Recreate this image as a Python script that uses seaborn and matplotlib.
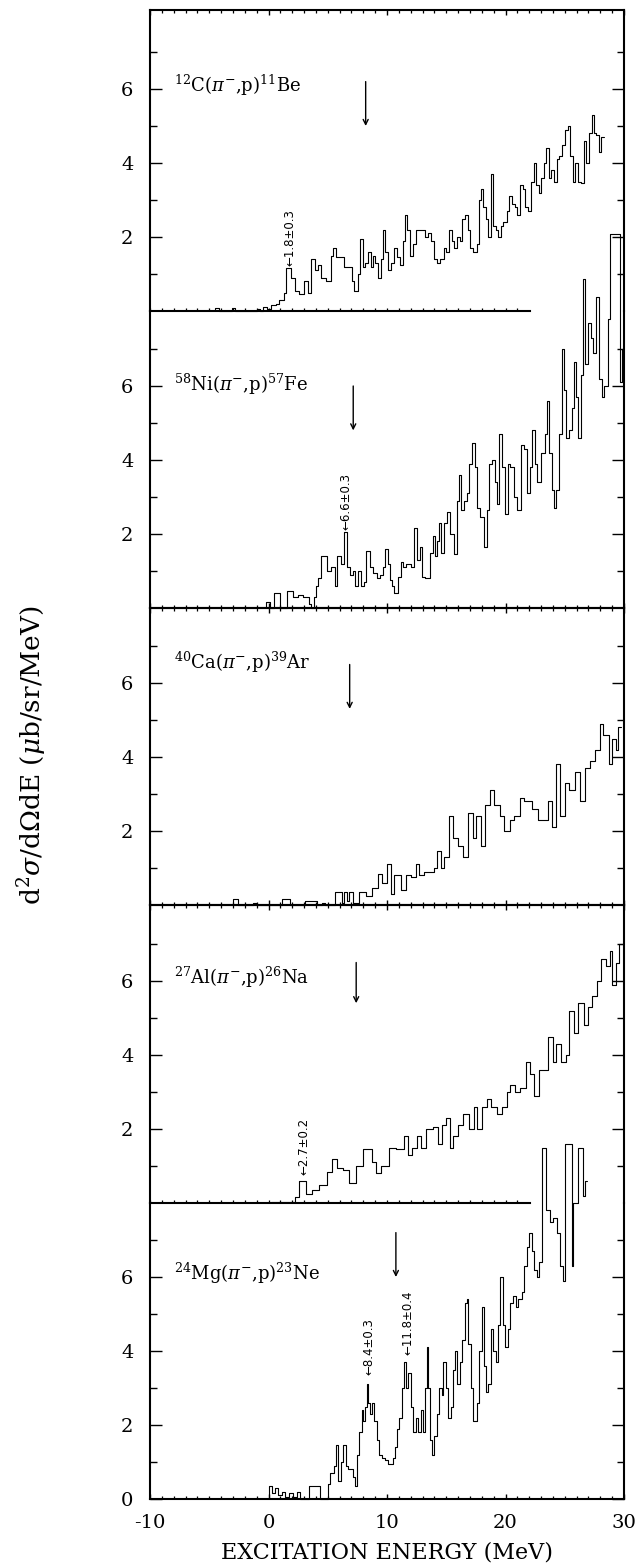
import numpy as np
import matplotlib
matplotlib.use("Agg")
from matplotlib import pyplot as plt
from matplotlib import ticker
import seaborn as sns

sns.set_theme(style="white")
plt.rcParams["font.family"] = ["DejaVu Serif", "DejaVu Sans"]
plt.rcParams["mathtext.fontset"] = "dejavuserif"
plt.rcParams["xtick.direction"] = "in"
plt.rcParams["ytick.direction"] = "in"
plt.rcParams["axes.unicode_minus"] = False
for key in ("text.color", "axes.labelcolor", "xtick.color", "ytick.color", "axes.edgecolor"):
    plt.rcParams[key] = "black"


# step histograms: bin edges (MeV) and cross sections (mub/sr/MeV), one value per bin
c_e = [-4.5, -4.2, -3.1, -2.8, -1.0, -0.7, -0.5, -0.1, 0.2, 0.6,
       0.9, 1.3, 1.5, 1.9, 2.2, 2.6, 3.0, 3.3, 3.6, 3.9,
       4.15, 4.45, 4.85, 5.3, 5.45, 5.7, 6.4, 7.03, 7.25, 7.59,
       7.76, 7.96, 8.16, 8.38, 8.61, 8.81, 9.0, 9.23, 9.51, 9.66,
       9.85, 10.08, 10.36, 10.59, 10.87, 11.07, 11.35, 11.55, 11.72, 11.92,
       12.2, 12.48, 13.19, 13.47, 13.75, 13.98, 14.18, 14.46, 14.82, 15.02,
       15.25, 15.45, 15.67, 15.87, 16.15, 16.35, 16.58, 16.8, 17.0, 17.28,
       17.57, 17.76, 17.93, 18.13, 18.33, 18.55, 18.75, 18.98, 19.18, 19.4,
       19.63, 19.83, 20.11, 20.31, 20.53, 20.76, 20.96, 21.24, 21.44, 21.66,
       21.94, 22.17, 22.37, 22.57, 22.79, 23.02, 23.22, 23.41, 23.64, 23.84,
       24.06, 24.35, 24.54, 24.77, 25.05, 25.28, 25.47, 25.67, 25.9, 26.12,
       26.38, 26.6, 26.8, 27.03, 27.26, 27.45, 27.65, 27.88, 28.07, 28.3]
c_v = [0.08, 0.0, 0.08, 0.0, 0.06, 0.0, 0.1, 0.05, 0.15, 0.2,
       0.3, 0.5, 1.15, 0.9, 0.55, 0.45, 0.8, 0.5, 1.4, 1.1,
       1.25, 0.9, 0.8, 1.5, 1.7, 1.45, 1.2, 0.8, 0.55, 1.0,
       1.95, 1.2, 1.3, 1.6, 1.2, 1.5, 1.3, 0.9, 1.4, 2.2,
       1.6, 1.1, 1.3, 1.7, 1.45, 1.25, 1.9, 2.6, 2.2, 1.5,
       1.8, 2.2, 2.0, 2.1, 1.9, 1.4, 1.3, 1.4, 1.7, 1.6,
       2.2, 1.9, 1.7, 2.0, 1.9, 2.5, 2.6, 2.2, 1.7, 1.6,
       1.8, 3.0, 3.3, 2.8, 2.5, 2.0, 3.7, 2.3, 2.2, 2.0,
       2.3, 2.4, 2.7, 3.1, 2.9, 2.8, 2.6, 3.4, 3.3, 2.8,
       2.7, 3.5, 4.0, 3.4, 3.2, 3.6, 4.0, 4.4, 3.6, 3.8,
       3.5, 4.1, 4.2, 4.5, 4.9, 5.0, 4.2, 3.5, 4.0, 3.5,
       3.45, 4.6, 4.0, 4.8, 5.3, 4.8, 4.75, 4.3, 4.7]

ni_e = [-0.2, 0.1, 0.5, 0.95, 1.6, 2.05, 2.5, 2.9, 3.4, 3.6,
        3.85, 4.05, 4.2, 4.45, 4.9, 5.3, 5.59, 5.82, 6.1, 6.38,
        6.66, 6.86, 7.14, 7.34, 7.57, 7.79, 8.08, 8.27, 8.56, 8.84,
        9.12, 9.4, 9.69, 9.83, 10.05, 10.25, 10.45, 10.62, 10.96, 11.18,
        11.38, 11.58, 12.03, 12.26, 12.51, 12.79, 12.99, 13.22, 13.64, 13.84,
        14.01, 14.21, 14.4, 14.57, 14.8, 15.05, 15.34, 15.62, 15.9, 16.1,
        16.27, 16.47, 16.75, 16.95, 17.17, 17.4, 17.6, 17.88, 18.16, 18.44,
        18.64, 18.87, 19.09, 19.29, 19.49, 19.71, 19.94, 20.22, 20.42, 20.7,
        20.99, 21.27, 21.55, 21.83, 22.06, 22.26, 22.48, 22.68, 22.96, 23.33,
        23.53, 23.67, 23.9, 24.09, 24.29, 24.52, 24.74, 24.94, 25.14, 25.36,
        25.59, 25.79, 25.99, 26.16, 26.35, 26.55, 26.72, 26.92, 27.2, 27.4,
        27.62, 27.91, 28.13, 28.33, 28.61, 28.85, 29.65, 29.8, 30.0]
ni_v = [0.15, 0.0, 0.4, 0.0, 0.45, 0.3, 0.35, 0.3, 0.1, 0.0,
        0.3, 0.6, 0.8, 1.4, 1.0, 1.1, 0.6, 1.4, 1.2, 2.05,
        1.1, 0.9, 1.0, 0.6, 1.0, 0.6, 0.7, 1.55, 1.1, 0.95,
        0.8, 0.9, 1.1, 1.6, 1.2, 0.75, 0.6, 0.4, 0.85, 1.25,
        1.1, 1.2, 1.1, 2.15, 1.3, 1.65, 0.85, 0.8, 1.5, 1.95,
        1.4, 1.8, 2.3, 1.5, 2.3, 2.6, 2.0, 1.45, 2.9, 3.6,
        2.65, 2.9, 3.1, 3.9, 4.45, 3.8, 2.7, 2.45, 1.65, 2.65,
        3.9, 4.0, 3.4, 2.8, 4.7, 3.8, 2.55, 3.9, 3.8, 3.0,
        2.65, 4.4, 4.3, 3.1, 3.8, 4.8, 3.9, 3.4, 4.2, 4.7,
        5.6, 4.2, 3.2, 2.7, 3.2, 4.7, 7.0, 5.9, 4.6, 4.8,
        5.4, 6.65, 5.7, 4.6, 6.3, 8.9, 6.6, 7.7, 7.3, 6.9,
        8.4, 6.2, 5.7, 6.0, 7.8, 10.1, 6.1, 7.0]

ca_e = [-3.0, -2.55, -1.3, -1.0, 1.1, 1.85, 3.1, 4.1, 4.5, 4.8,
        5.65, 6.2, 6.35, 6.65, 6.8, 7.1, 7.6, 8.2, 8.75, 9.2,
        9.6, 10.0, 10.3, 10.6, 11.15, 11.6, 12.0, 12.45, 12.7, 13.1,
        13.95, 14.25, 14.55, 14.8, 15.25, 15.55, 15.95, 16.4, 16.8, 17.25,
        17.5, 17.95, 18.25, 18.65, 19.05, 19.5, 19.9, 20.35, 20.75, 21.2,
        21.6, 22.2, 22.75, 23.6, 23.9, 24.3, 24.6, 25.0, 25.4, 25.85,
        26.25, 26.7, 27.1, 27.55, 27.95, 28.25, 28.7, 29.0, 29.3, 29.5,
        29.75]
ca_v = [0.15, 0.0, 0.05, 0.0, 0.15, 0.0, 0.1, 0.0, 0.05, 0.0,
        0.35, 0.05, 0.35, 0.1, 0.35, 0.05, 0.35, 0.25, 0.45, 0.85,
        0.6, 1.1, 0.3, 0.8, 0.4, 0.8, 0.75, 1.1, 0.8, 0.9,
        1.0, 1.45, 1.0, 1.3, 2.4, 1.8, 1.6, 1.3, 2.5, 1.8,
        2.4, 1.6, 2.7, 3.1, 2.7, 2.4, 2.0, 2.3, 2.4, 2.9,
        2.8, 2.6, 2.3, 2.8, 2.1, 3.8, 2.4, 3.3, 3.1, 3.6,
        2.8, 3.7, 3.9, 4.2, 4.9, 4.6, 3.8, 4.5, 4.2, 4.8]

al_e = [0.2, 2.2, 2.6, 3.2, 3.7, 4.3, 4.9, 5.4, 5.8, 6.3,
        6.8, 7.4, 8.0, 8.7, 9.1, 9.5, 10.2, 10.8, 11.4, 11.8,
        12.1, 12.5, 12.9, 13.3, 13.9, 14.3, 14.6, 15.0, 15.3, 15.6,
        16.0, 16.4, 16.9, 17.3, 17.6, 18.0, 18.4, 18.8, 19.3, 19.7,
        20.1, 20.4, 20.8, 21.2, 21.7, 22.1, 22.4, 22.8, 23.6, 24.0,
        24.3, 24.7, 25.1, 25.4, 25.8, 26.1, 26.6, 27.0, 27.3, 27.7,
        28.1, 28.5, 28.8, 29.0, 29.3, 29.6, 30.0]
al_v = [0.04, 0.15, 0.6, 0.25, 0.35, 0.5, 0.85, 1.2, 0.95, 0.9,
        0.55, 1.0, 1.45, 1.1, 0.8, 1.0, 1.5, 1.45, 1.8, 1.3,
        1.5, 1.8, 1.5, 2.0, 2.05, 1.6, 2.1, 2.3, 1.5, 1.8,
        2.1, 2.4, 2.0, 2.6, 2.0, 2.6, 2.8, 2.6, 2.4, 2.6,
        3.0, 3.2, 3.0, 3.1, 3.8, 3.5, 2.9, 3.6, 4.5, 3.8,
        4.3, 3.8, 4.0, 5.2, 4.6, 5.4, 4.8, 5.3, 5.6, 6.0,
        6.6, 6.4, 6.8, 5.9, 6.5, 7.0]

mg_e = [0.0, 0.3, 0.55, 0.8, 1.1, 1.4, 1.7, 2.1, 2.4, 2.7,
        3.4, 4.35, 5.0, 5.19, 5.53, 5.7, 5.89, 6.12, 6.26, 6.51,
        6.74, 7.1, 7.3, 7.5, 7.67, 7.86, 8.0, 8.17, 8.28, 8.42,
        8.57, 8.76, 8.9, 9.13, 9.35, 9.55, 9.83, 10.11, 10.48, 10.68,
        10.82, 11.04, 11.24, 11.43, 11.6, 11.8, 12.0, 12.22, 12.45, 12.64,
        12.84, 13.01, 13.21, 13.35, 13.49, 13.63, 13.8, 13.97, 14.19, 14.42,
        14.61, 14.75, 14.98, 15.18, 15.37, 15.54, 15.74, 15.94, 16.16, 16.36,
        16.58, 16.72, 16.86, 17.06, 17.29, 17.57, 17.76, 17.99, 18.19, 18.35,
        18.55, 18.75, 18.97, 19.17, 19.34, 19.54, 19.76, 19.96, 20.24, 20.38,
        20.66, 20.89, 21.08, 21.36, 21.56, 21.79, 22.01, 22.21, 22.41, 22.63,
        22.86, 23.05, 23.4, 23.76, 24.04, 24.32, 24.6, 24.88, 25.02, 25.58,
        25.72, 26.1, 26.5, 26.7, 26.9]
mg_v = [0.35, 0.15, 0.3, 0.1, 0.2, 0.05, 0.15, 0.05, 0.2, 0.0,
        0.35, 0.0, 0.4, 0.7, 0.9, 1.45, 0.5, 1.0, 1.45, 0.9,
        0.8, 0.6, 0.35, 1.2, 1.8, 2.4, 2.1, 2.5, 3.1, 2.6,
        2.3, 2.6, 2.1, 1.6, 1.2, 1.1, 1.05, 0.95, 1.1, 1.4,
        1.9, 2.2, 3.0, 3.7, 3.0, 3.4, 2.5, 1.8, 2.2, 1.8,
        2.4, 1.8, 3.0, 4.1, 3.0, 1.6, 1.2, 1.7, 2.3, 3.0,
        2.8, 3.7, 3.0, 2.2, 2.5, 3.5, 4.0, 3.1, 3.7, 4.3,
        5.3, 5.4, 4.2, 3.0, 2.1, 2.6, 4.0, 5.2, 3.6, 2.9,
        3.1, 4.6, 4.0, 3.7, 4.7, 6.0, 4.7, 4.1, 4.6, 5.3,
        5.5, 5.2, 5.4, 5.6, 6.3, 6.8, 7.2, 6.7, 6.2, 6.0,
        6.4, 9.5, 7.8, 7.5, 7.6, 7.2, 6.3, 5.9, 9.6, 6.3,
        8.0, 9.5, 8.2, 8.6]

reactions = ["$^{12}$C($\\pi^{-}$,p)$^{11}$Be", "$^{58}$Ni($\\pi^{-}$,p)$^{57}$Fe",
             "$^{40}$Ca($\\pi^{-}$,p)$^{39}$Ar", "$^{27}$Al($\\pi^{-}$,p)$^{26}$Na",
             "$^{24}$Mg($\\pi^{-}$,p)$^{23}$Ne"]
label_y = [6.1, 6.05, 6.55, 6.1, 6.1]
# long arrows: energy, top, tip
thr_x = [8.2, 7.15, 6.85, 7.4, 10.75]
thr_top = [6.2, 6.0, 6.5, 6.5, 7.2]
thr_tip = [5.0, 4.8, 5.3, 5.4, 6.0]
# marked peaks: panel, energy, height, text
peak_panel = [0, 1, 3, 4, 4]
peak_x = [1.85, 6.55, 3.0, 8.5, 11.8]
peak_y = [1.22, 2.1, 0.75, 3.35, 3.9]
peak_txt = ["\u21901.8\u00b10.3", "\u21906.6\u00b10.3", "\u21902.7\u00b10.2",
            "\u21908.4\u00b10.3", "\u219011.8\u00b10.4"]

series = [(c_e, c_v), (ni_e, ni_v), (ca_e, ca_v), (al_e, al_v), (mg_e, mg_v)]

W, H = 641, 1566
base_px = [311, 608, 905, 1203, 1499]
top_px = [10, 311, 608, 905, 1203]
left_px, right_px = 150, 624
px_per_unit = 37.0

fig = plt.figure(figsize=(W / 100, H / 100), dpi=100)
axes = []
for k in range(5):
    rect = [left_px / W, 1 - base_px[k] / H, (right_px - left_px) / W, (base_px[k] - top_px[k]) / H]
    axes.append(fig.add_axes(rect))


def steps(edges, vals):
    x = [edges[0]] + list(edges)
    y = [0.0] + list(vals) + [vals[-1]]
    return x, y


for k, ax in enumerate(axes):
    ax.set_facecolor("none")
    x, y = steps(*series[k])
    sns.lineplot(x=x, y=y, ax=ax, estimator=None, sort=False, drawstyle="steps-post",
                 color="black", linewidth=0.8, clip_on=False)
    ax.set_xlim(-10, 30)
    ax.set_ylim(0, (base_px[k] - top_px[k]) / px_per_unit)
    ax.set_xlabel("")
    ax.set_ylabel("")
    for s in ax.spines.values():
        s.set_linewidth(1.5)
        s.set_color("black")

    ax.xaxis.set_major_locator(ticker.MultipleLocator(10))
    ax.xaxis.set_minor_locator(ticker.MultipleLocator(1))
    ax.yaxis.set_major_locator(ticker.FixedLocator([0, 2, 4, 6] if k == 4 else [2, 4, 6]))
    ax.yaxis.set_minor_locator(ticker.FixedLocator([1, 3, 5, 7]))
    ax.tick_params(axis="y", which="both", left=True, right=True, labelsize=14, pad=12,
                   width=1.0, color="black")
    ax.tick_params(axis="y", which="major", length=8.6)
    ax.tick_params(axis="y", which="minor", length=5)
    ax.tick_params(axis="x", which="major", length=3.5, width=1.0, color="black")
    ax.tick_params(axis="x", which="minor", length=2.5, width=0.9, color="black")

    ax.text(-8.0, label_y[k], reactions[k], fontsize=13, va="center", ha="left")
    ax.annotate("", xy=(thr_x[k], thr_tip[k]), xytext=(thr_x[k], thr_top[k]),
                arrowprops=dict(arrowstyle="->", color="black", lw=1.0,
                                shrinkA=0, shrinkB=0, mutation_scale=9))

for p, xx, yy, tt in zip(peak_panel, peak_x, peak_y, peak_txt):
    axes[p].text(xx, yy, tt, rotation=90, ha="center", va="bottom", fontsize=8.5,
                 family=["DejaVu Sans"])

# panel borders: some baselines are cut where the spectrum below runs through
for k in range(5):
    ax = axes[k]
    if k in (0, 3):
        ax.tick_params(axis="x", which="both", top=True, bottom=False, labelbottom=False)
        ax.spines["bottom"].set_visible(False)
        sec = ax.secondary_xaxis("bottom")
        sec.set_xticks(np.arange(-10, 22))
        sec.tick_params(axis="x", direction="in", length=2.5, width=0.9, labelbottom=False)
        sec.spines["bottom"].set_bounds(-10, 22.1)
        sec.spines["bottom"].set_linewidth(1.5)
    elif k in (1, 4):
        ax.spines["top"].set_visible(False)
        ax.tick_params(axis="x", which="both", top=False, bottom=True, labelbottom=(k == 4))
    else:
        ax.tick_params(axis="x", which="both", top=True, bottom=True, labelbottom=False)

axes[4].tick_params(axis="x", which="major", labelsize=14, pad=11)

fig.text((left_px + right_px) / 2 / W, 1 - 1552 / H, "EXCITATION ENERGY (MeV)",
         ha="center", va="center", fontsize=16)
fig.text(32 / W, 1 - 755 / H, "d$^{2}\\sigma$/d$\\Omega$dE ($\\mu$b/sr/MeV)",
         rotation=90, ha="center", va="center", fontsize=19)

fig.savefig("out.png", dpi=100)
